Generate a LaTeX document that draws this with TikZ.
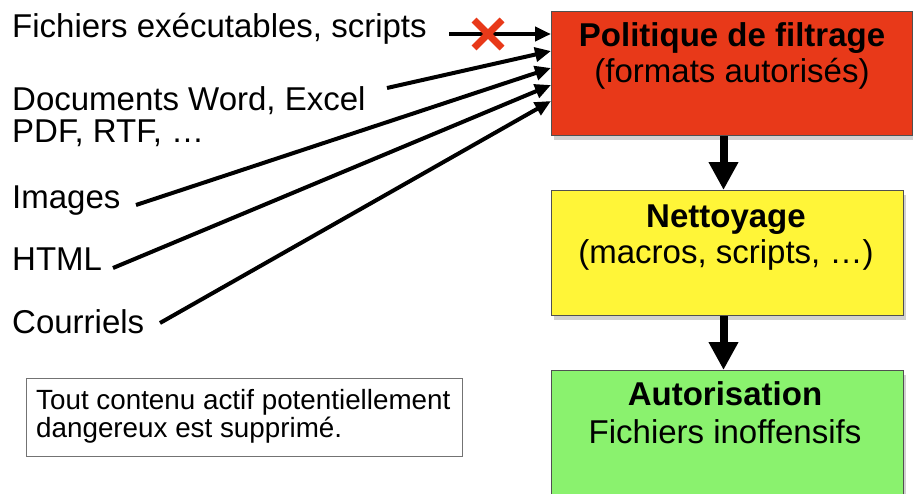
\documentclass[tikz,border=0pt]{standalone}
\usepackage{fontspec}
\setmainfont{Liberation Sans}
\usetikzlibrary{arrows.meta,shadows}
\definecolor{boxred}{RGB}{232,57,25}
\definecolor{boxyellow}{RGB}{255,245,56}
\definecolor{boxgreen}{RGB}{138,242,110}
\definecolor{edgegray}{RGB}{80,80,80}
\begin{document}
\begin{tikzpicture}[x=1pt,y=-1pt,
  lbl/.style={anchor=base west, inner sep=0pt, font=\fontsize{33}{38}\selectfont},
  ttl/.style={anchor=base, inner sep=0pt, font=\fontsize{33}{38}\selectfont\bfseries},
  sub/.style={anchor=base, inner sep=0pt, font=\fontsize{33}{38}\selectfont},
  notetxt/.style={anchor=base west, inner sep=0pt, font=\fontsize{27.8}{31}\selectfont},
  stage/.style={draw=edgegray, line width=1pt, anchor=north west, inner sep=0pt,
    drop shadow={shadow xshift=2pt, shadow yshift=-4pt, opacity=0.18, fill=black}},
  feed/.style={line width=4pt, -{Triangle[length=16pt,width=14pt]}},
  flow/.style={line width=8pt, -{Triangle[length=28pt,width=28pt]}},
  xmark/.style={draw=boxred, line width=7pt}]
\useasboundingbox (0,0) rectangle (913,493);

% stage boxes
\node[stage, fill=boxred, minimum width=361pt, minimum height=124pt] (filt) at (551,11) {};
\node[stage, fill=boxyellow, minimum width=352pt, minimum height=125pt] (net) at (551,190) {};
\node[stage, fill=boxgreen, minimum width=352pt, minimum height=140pt] (ok) at (551,370) {};

% box texts
\node[ttl] (filtA) at (732,46) {Politique de filtrage};
\node[sub] (filtB) at (732,82) {(formats autorisés)};
\node[ttl] (netA) at (726,227) {Nettoyage};
\node[sub] (netB) at (726,263) {(macros, scripts, …)};
\node[ttl] (okA) at (725,405) {Autorisation};
\node[sub] (okB) at (725,443) {Fichiers inoffensifs};

% input labels
\node[lbl] (exe) at (12,37) {Fichiers exécutables, scripts};
\node[lbl] (doc) at (12,110) {Documents Word, Excel};
\node[lbl] (pdf) at (12,142) {PDF, RTF, …};
\node[lbl] (img) at (12,208) {Images};
\node[lbl] (html) at (12,270) {HTML};
\node[lbl] (mail) at (12,333) {Courriels};

% connector end points
\coordinate (s1) at (449,34);
\coordinate (s2) at (387,88);
\coordinate (s3) at (136,205);
\coordinate (s4) at (113,268);
\coordinate (s5) at (160,323);
\coordinate (t1) at (filt.west |- 0,34);
\coordinate (t2) at (filt.west |- 0,51);
\coordinate (t3) at (filt.west |- 0,68);
\coordinate (t4) at (filt.west |- 0,85);
\coordinate (t5) at (filt.west |- 0,101);

\draw[feed] (s1) -- (t1);
\draw[feed] (s2) -- (t2);
\draw[feed] (s3) -- (t3);
\draw[feed] (s4) -- (t4);
\draw[feed] (s5) -- (t5);

% blocked mark
\coordinate (cross) at (488,34);
\draw[xmark] ([shift={(-14,-14)}]cross) -- ([shift={(14,14)}]cross);
\draw[xmark] ([shift={(-14,14)}]cross) -- ([shift={(14,-14)}]cross);

% flow arrows
\draw[flow] ([xshift=-4pt]net.north |- filt.south) -- ([xshift=-4pt]net.north);
\draw[flow] ([xshift=-4pt]ok.north |- net.south) -- ([xshift=-4pt]ok.north);

% note
\node[draw=black!55, line width=1pt, anchor=north west, inner sep=0pt,
  minimum width=436pt, minimum height=78pt] (note) at (26,378) {};
\node[notetxt] (noteA) at (36,409) {Tout contenu actif potentiellement};
\node[notetxt] (noteB) at (36,437) {dangereux est supprimé.};
\end{tikzpicture}
\end{document}
